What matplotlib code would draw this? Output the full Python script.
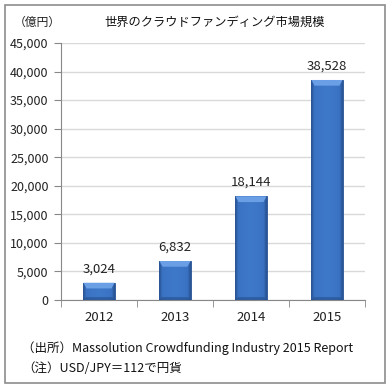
import matplotlib
matplotlib.use("Agg")
import matplotlib.pyplot as plt
import numpy as np
from matplotlib.patches import Rectangle, Polygon
from matplotlib.colors import LinearSegmentedColormap

plt.rcParams['font.family'] = ['Noto Sans CJK JP', 'DejaVu Sans']

years = ["2012", "2013", "2014", "2015"]
values = [3024, 6832, 18144, 38528]
labels = ["3,024", "6,832", "18,144", "38,528"]
yticks = [0, 5000, 10000, 15000, 20000, 25000, 30000, 35000, 40000, 45000]
ytick_labels = ["0", "5,000", "10,000", "15,000", "20,000", "25,000", "30,000", "35,000", "40,000", "45,000"]

W, H = 390, 389
fig = plt.figure(figsize=(W/100, H/100), dpi=100)
fig.patch.set_facecolor("white")

# border
fig.patches.append(Rectangle((5/W, 1 - 383/H), 380/W, 378/H, transform=fig.transFigure,
                             fill=False, edgecolor="#8c8c8c", linewidth=1.2))

ax = fig.add_axes([61/W, 1 - 300/H, 304/W, 257/H])
x = np.arange(len(years))
bw = 0.41
# shadow
ax.bar(x + 0.025, values, width=bw, color="#000000", alpha=0.12, linewidth=0, zorder=2.5)
bars = ax.bar(x, values, width=bw, color="#3b73c3", edgecolor="#2a5596", linewidth=0.6, zorder=3)

grad = np.linspace(0, 1, 64)
prof = np.clip(1 - np.abs(grad - 0.5) * 2.2, 0, 1) ** 0.35
cmap = LinearSegmentedColormap.from_list("b", ["#2a5698", "#3a72c2", "#3e78c8"])
bev = 1000
for b in bars:
    x0, y0 = b.get_x(), b.get_y()
    w, h = b.get_width(), b.get_height()
    img = ax.imshow(prof[np.newaxis, :], extent=[x0, x0 + w, y0, y0 + h], aspect="auto",
                    cmap=cmap, vmin=0, vmax=1, zorder=3.5, interpolation="bicubic")
    img.set_clip_path(b)
    top = y0 + h
    ax.add_patch(Polygon([(x0, top), (x0 + w, top), (x0 + w*0.9, top - bev), (x0 + w*0.1, top - bev)],
                         closed=True, facecolor="#6a9fe6", edgecolor="none", zorder=4))
    ax.add_patch(Polygon([(x0, y0), (x0 + w, y0), (x0 + w*0.92, y0 + 500), (x0 + w*0.08, y0 + 500)],
                         closed=True, facecolor="#244c88", edgecolor="none", zorder=4, alpha=0.6))

for xi, v, lab in zip(x, values, labels):
    ax.text(xi, v + 1300, lab, ha="center", va="bottom", fontsize=9.5, color="#222222", zorder=5)

ax.set_xlim(-0.5, len(years) - 0.5)
ax.set_ylim(0, 45000)
ax.set_yticks(yticks)
ax.set_yticklabels(ytick_labels, fontsize=9, color="#222222")
ax.set_xticks(x)
ax.set_xticklabels(years, fontsize=9.5, color="#222222")
ax.set_xticks(np.arange(-0.5, len(years)), minor=True)
ax.tick_params(axis="x", which="major", length=0, pad=8)
ax.tick_params(axis="x", which="minor", length=5, color="#888888", direction="out")
ax.tick_params(axis="y", length=5, color="#888888", direction="out", pad=4)
ax.grid(axis="y", color="#d9d9d9", linewidth=1, zorder=0)
ax.set_axisbelow(True)
for s in ["top", "right"]:
    ax.spines[s].set_visible(False)
ax.spines["left"].set_color("#888888")
ax.spines["bottom"].set_color("#888888")

fig.text(215/W, 1 - 22/H, "世界のクラウドファンディング市場規模", ha="center", va="center", fontsize=8.8, color="#111111")
fig.text(37/W, 1 - 22/H, "（億円）", ha="center", va="center", fontsize=8.5, color="#222222")
fig.text(22/W, 1 - 348/H, "（出所）Massolution Crowdfunding Industry 2015 Report", ha="left", va="center", fontsize=9, color="#111111")
fig.text(22/W, 1 - 369/H, "（注）USD/JPY＝112で円貨", ha="left", va="center", fontsize=9, color="#111111")

fig.savefig("out.png", dpi=100)
